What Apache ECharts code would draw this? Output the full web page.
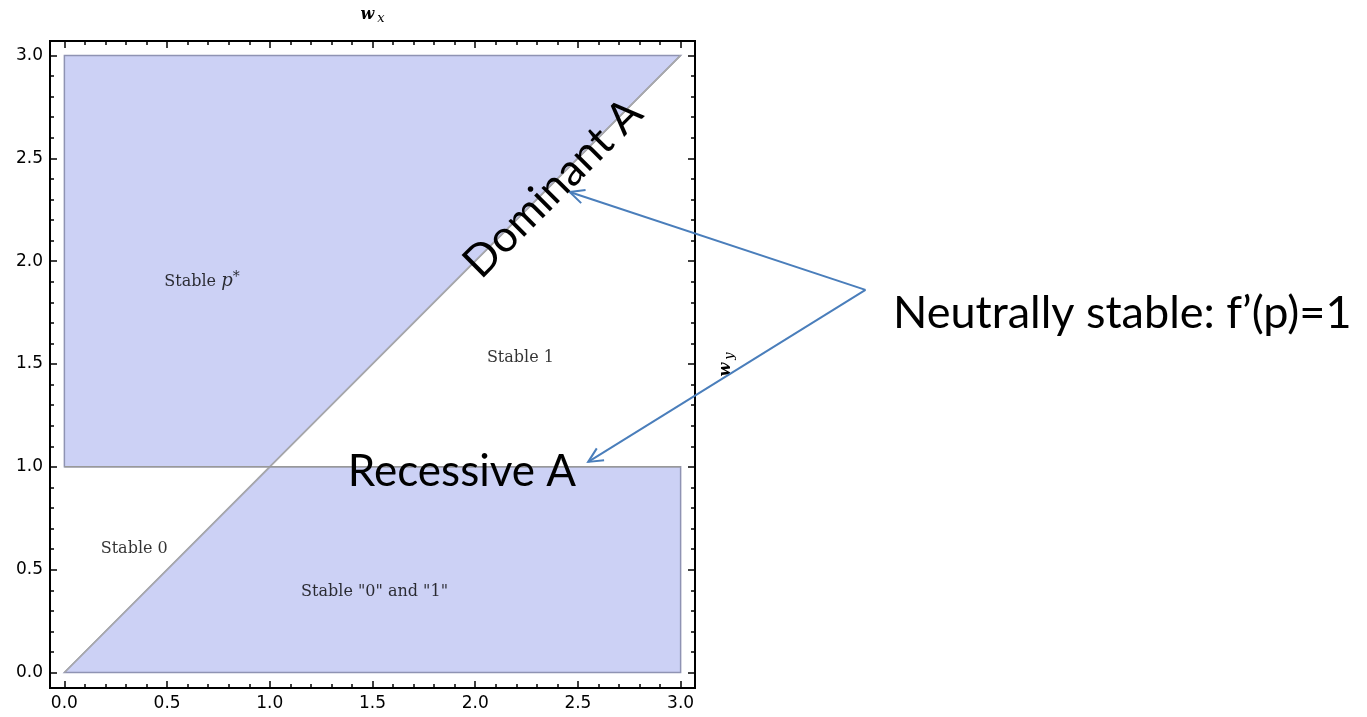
<!DOCTYPE html>
<html>
<head>
<meta charset="utf-8">
<script src="https://cdn.jsdelivr.net/npm/echarts@6/dist/echarts.min.js"></script>
<style>
  html, body { margin: 0; padding: 0; background: #fff; }
  #chart { width: 1367px; height: 717px; }
</style>
</head>
<body>
<div id="chart"></div>
<script>
// regions of the (wx, wy) plane, as polygon vertices
const regionPStar = [[0, 1], [0, 3], [3, 3], [1, 1]]
const regionBoth = [[0, 0], [3, 0], [3, 1], [1, 1]]
const regions = [regionPStar, regionBoth]

// boundary lines
const diagonalLine = [[0, 0], [3, 3]]
const recessiveLine = [[0, 1], [3, 1]]

// region labels
const regionLabelPos = [[0.67, 1.9], [2.22, 1.53], [0.34, 0.6], [1.51, 0.39]]
const regionLabelText = ['Stable {i|p}{s|*}', 'Stable 1', 'Stable 0', 'Stable "0" and "1"']

// ticks
const majorTicks = [0, 0.5, 1, 1.5, 2, 2.5, 3]
const minorTicks = [0, 0.1, 0.2, 0.3, 0.4, 0.5, 0.6, 0.7, 0.8, 0.9, 1, 1.1, 1.2, 1.3, 1.4, 1.5,
  1.6, 1.7, 1.8, 1.9, 2, 2.1, 2.2, 2.3, 2.4, 2.5, 2.6, 2.7, 2.8, 2.9, 3]

// arrows: common start, two tips (data coords)
const arrowStart = [3.9, 1.86]
const arrowTips = [[2.46, 2.336], [2.55, 1.024]]

const xMin = -0.07, xMax = 3.07
const yMin = -0.075, yMax = 3.07

const chart = echarts.init(document.getElementById('chart'))

const frameLine = { show: true, onZero: false, lineStyle: { color: '#000', width: 2 } }
const tickFont = { fontFamily: 'DejaVu Sans', fontSize: 17, color: '#000' }
const fmt = v => v.toFixed(1)
const nameRich = {
  w: { fontFamily: 'DejaVu Serif', fontStyle: 'italic', fontWeight: 'bold', fontSize: 16, color: '#000' },
  s: { fontFamily: 'DejaVu Serif', fontStyle: 'italic', fontSize: 13, color: '#000', padding: [7, 0, 0, 3] }
}

function makeAxis(type, position, ticks, len, withLabel, extra) {
  return Object.assign({
    type: 'value',
    position: position,
    min: type === 'x' ? xMin : yMin,
    max: type === 'x' ? xMax : yMax,
    axisLine: frameLine,
    axisTick: { show: true, inside: true, length: len, customValues: ticks, lineStyle: { color: '#000', width: 1.5 } },
    axisLabel: withLabel
      ? Object.assign({ show: true, customValues: ticks, formatter: fmt, margin: 7 }, tickFont)
      : { show: false },
    splitLine: { show: false }
  }, extra || {})
}

chart.setOption({
  animation: false,
  grid: { left: 50, right: 672, top: 41, bottom: 29, outerBoundsMode: 'none', containLabel: false },
  xAxis: [
    makeAxis('x', 'bottom', majorTicks, 7, true),
    makeAxis('x', 'bottom', minorTicks, 4, false),
    makeAxis('x', 'top', majorTicks, 7, false, {
      name: '{w|w}{s|x}',
      nameLocation: 'middle',
      nameGap: 16,
      nameTextStyle: { rich: nameRich }
    }),
    makeAxis('x', 'top', minorTicks, 4, false)
  ],
  yAxis: [
    makeAxis('y', 'left', majorTicks, 7, true),
    makeAxis('y', 'left', minorTicks, 4, false),
    makeAxis('y', 'right', majorTicks, 7, false, {
      name: '{w|w}{s|y}',
      nameLocation: 'middle',
      nameGap: 21,
      nameRotate: 90,
      nameTextStyle: { rich: nameRich }
    }),
    makeAxis('y', 'right', minorTicks, 4, false)
  ],
  series: [
    {
      type: 'custom',
      data: [0, 1],
      renderItem: (params, api) => {
        const pts = regions[params.dataIndex].map(p => api.coord(p))
        return {
          type: 'polygon',
          shape: { points: pts },
          style: { fill: '#ccd1f5', stroke: '#8f93b3', lineWidth: 1.5 }
        }
      },
      z: 1
    },
    {
      type: 'line',
      data: diagonalLine,
      symbol: 'none',
      lineStyle: { color: '#a9a9a9', width: 1.5 },
      z: 2
    },
    {
      type: 'line',
      data: recessiveLine,
      symbol: 'none',
      lineStyle: { color: '#999999', width: 1.5 },
      z: 2
    },
    {
      type: 'scatter',
      data: regionLabelPos,
      symbolSize: 0,
      z: 3,
      label: {
        show: true,
        position: 'inside',
        formatter: p => regionLabelText[p.dataIndex],
        fontFamily: 'DejaVu Serif',
        fontSize: 16,
        color: '#000',
        rich: {
          i: { fontFamily: 'DejaVu Serif', fontStyle: 'italic', fontSize: 18, color: '#000' },
          s: { fontFamily: 'DejaVu Serif', fontSize: 14, color: '#000', padding: [0, 0, 9, 0] }
        }
      }
    }
  ]
})

// annotations: arrows + big text
const start = chart.convertToPixel({ xAxisIndex: 0, yAxisIndex: 0 }, arrowStart)
const arrowColor = '#4a7ebb'
const graphics = []
arrowTips.forEach(tip => {
  const t = chart.convertToPixel({ xAxisIndex: 0, yAxisIndex: 0 }, tip)
  graphics.push({
    type: 'line',
    shape: { x1: start[0], y1: start[1], x2: t[0], y2: t[1] },
    style: { stroke: arrowColor, lineWidth: 2 },
    z: 10
  })
  const ang = Math.atan2(start[1] - t[1], start[0] - t[0])
  const hl = 16, ha = 0.45
  graphics.push({
    type: 'polyline',
    shape: {
      points: [
        [t[0] + hl * Math.cos(ang + ha), t[1] + hl * Math.sin(ang + ha)],
        [t[0], t[1]],
        [t[0] + hl * Math.cos(ang - ha), t[1] + hl * Math.sin(ang - ha)]
      ]
    },
    style: { stroke: arrowColor, lineWidth: 2, fill: null },
    z: 10
  })
})

const bigFont = { fontFamily: 'Lato', fontSize: 44, fill: '#000' }
graphics.push({
  type: 'text',
  x: 553, y: 188,
  rotation: Math.PI / 4,
  style: Object.assign({ text: 'Dominant A', align: 'center', verticalAlign: 'middle' }, bigFont),
  z: 11
})
graphics.push({
  type: 'text',
  x: 462, y: 472,
  style: Object.assign({ text: 'Recessive A', align: 'center', verticalAlign: 'middle' }, bigFont),
  z: 11
})
graphics.push({
  type: 'text',
  x: 893, y: 313,
  style: Object.assign({}, bigFont, { text: 'Neutrally stable: f’(p)=1', align: 'left', verticalAlign: 'middle', fontSize: 45 }),
  z: 11
})

chart.setOption({ graphic: graphics })
</script>
</body>
</html>
